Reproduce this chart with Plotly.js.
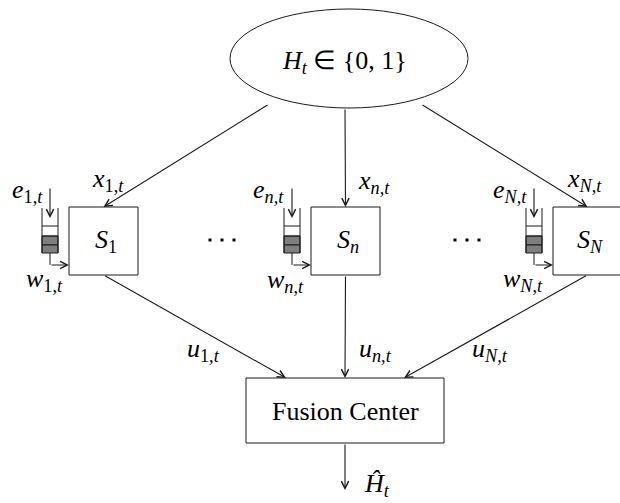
<!DOCTYPE html>
<html><head><meta charset="utf-8">
<script src="https://cdn.plot.ly/plotly-3.0.1.min.js"></script>
<style>html,body{margin:0;padding:0;background:#fff;}</style>
</head><body><div id="chart" style="width:620px;height:503px;"></div>
<script>
// ---- data (labels) ----
const sensorIdx = ['1', 'n', 'N'];
const hypothesisLabel = '<i>H</i><sub><i>t</i></sub> ∈ {0, 1}';
const fusionLabel = 'Fusion Center';
const outputLabel = '<i>H\u0302</i><sub><i>t</i></sub>';

// ---- layout geometry (pixel-like data coordinates) ----
const W = 620, H = 503;
const boxX = [69, 311, 553];       // left edge of sensor boxes
const boxW = 69, boxTop = 207, boxBot = 275;
const ell = {x0: 230, x1: 468, y0: 9, y1: 108};
const fc = {x0: 246, x1: 444, y0: 378, y1: 443};
const qOff = 27;     // queue left offset from box left
const qW = 16;
const ink = '#1a1a1a';
const FONT = "'Liberation Serif', 'Times New Roman', Times, serif";
const FS = 26;

const shapes = [];
const annotations = [];

function line(x0, y0, x1, y1) {
  shapes.push({type: 'line', xref: 'x', yref: 'y', x0, y0, x1, y1, line: {color: ink, width: 1}});
}
function rect(x0, y0, x1, y1, fill) {
  shapes.push({type: 'rect', xref: 'x', yref: 'y', x0, y0, x1, y1, line: {color: ink, width: 1}, fillcolor: fill || 'rgba(0,0,0,0)'});
}
function arrow(xt, yt, xh, yh) {
  annotations.push({x: xh, y: yh, ax: xt, ay: yt, xref: 'x', yref: 'y', axref: 'x', ayref: 'y',
    text: '', showarrow: true, arrowhead: 5, arrowsize: 1.3, arrowwidth: 1.1, arrowcolor: ink, standoff: 0, startstandoff: 0});
}
function label(x, y, text, size) {
  annotations.push({x, y, xref: 'x', yref: 'y', text, showarrow: false, xanchor: 'center', yanchor: 'middle',
    font: {family: FONT, size: size || FS, color: '#000'}});
}

// hypothesis ellipse
shapes.push({type: 'circle', xref: 'x', yref: 'y', x0: ell.x0, y0: ell.y0, x1: ell.x1, y1: ell.y1, line: {color: ink, width: 1}});
label(344, 62, hypothesisLabel);

// fusion center
rect(fc.x0, fc.y0, fc.x1, fc.y1);
label(345, 411, fusionLabel);
const fcMid = (fc.x0 + fc.x1) / 2;
arrow(fcMid, fc.y1, fcMid, 490);
label(377, 485, outputLabel);

const xStart = [[269, 104], [345, 108], [421, 104]];
const uEnd = [286, 345, 404];
const xLblPos = [[108, 180], [374, 182], [584, 180]];
const eLblPos = [[27, 191], [268, 191], [510, 191]];
const wLblPos = [[44, 280], [285, 281], [523, 280]];
const uLblPos = [[203, 350], [375, 350], [490, 350]];

sensorIdx.forEach((k, i) => {
  const bx = boxX[i];
  const cx = bx + boxW / 2;
  const kTxt = (k === '1' ? '1' : '<i>' + k + '</i>');
  rect(bx, boxTop, bx + boxW, boxBot);
  label(cx + 2, 241, '<i>S</i><sub>' + kTxt + '</sub>');
  // queue
  const qx0 = bx - qOff, qx1 = qx0 + qW, qc = (qx0 + qx1) / 2;
  rect(qx0, 236, qx1, 245, '#7f7f7f');
  rect(qx0, 245, qx1, 253, '#7f7f7f');
  line(qx0, 208, qx0, 253);
  line(qx1, 208, qx1, 253);
  line(qx0, 226, qx1, 226);
  line(qx0, 236, qx1, 236);
  // energy arrival arrow
  arrow(qc, 187, qc, 218);
  // energy use arrow
  line(qc, 253, qc, 265);
  arrow(qc, 265, bx, 265);
  // observation arrow
  arrow(xStart[i][0], xStart[i][1], cx, boxTop);
  // decision arrow
  arrow(cx, boxBot, uEnd[i], fc.y0);
  const sub = kTxt + ',<i>t</i>';
  label(xLblPos[i][0], xLblPos[i][1], '<i>x</i><sub>' + sub + '</sub>');
  label(eLblPos[i][0], eLblPos[i][1], '<i>e</i><sub>' + sub + '</sub>');
  label(wLblPos[i][0], wLblPos[i][1], '<i>w</i><sub>' + sub + '</sub>');
  label(uLblPos[i][0], uLblPos[i][1], '<i>u</i><sub>' + sub + '</sub>');
});

// ellipsis dots between sensors
const dots = {x: [210, 222, 234, 455, 467, 479], y: [240, 240, 240, 240, 240, 240]};

const data = [{x: dots.x, y: dots.y, type: 'scatter', mode: 'markers',
  marker: {symbol: 'square', size: 3, color: '#000'}, hoverinfo: 'skip', showlegend: false}];

const layout = {
  width: W, height: H,
  margin: {l: 0, r: 0, t: 0, b: 0},
  paper_bgcolor: '#fff', plot_bgcolor: '#fff',
  xaxis: {range: [0, W], visible: false, fixedrange: true},
  yaxis: {range: [H, 0], visible: false, fixedrange: true},
  shapes, annotations, showlegend: false
};
Plotly.newPlot('chart', data, layout, {staticPlot: true, displayModeBar: false});
</script></body></html>
